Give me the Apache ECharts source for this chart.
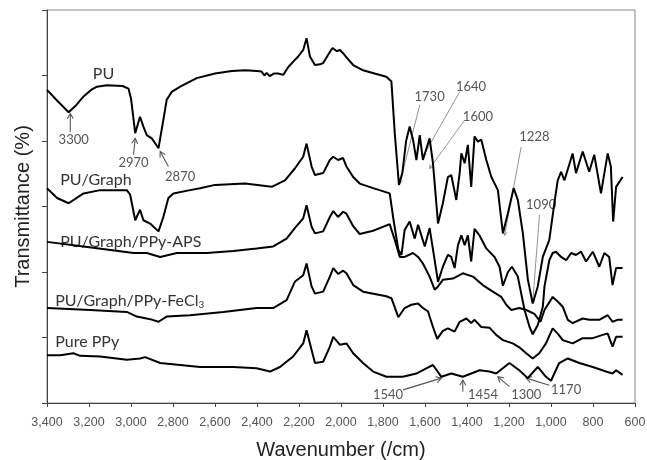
<!DOCTYPE html>
<html>
<head>
<meta charset="utf-8">
<script src="https://cdn.jsdelivr.net/npm/echarts@6/dist/echarts.min.js"></script>
<style>
  html, body { margin: 0; padding: 0; background: #fff; }
  #main { width: 647px; height: 460px; }
</style>
</head>
<body>
<div id="main"></div>
<script>
// FTIR spectra, [wavenumber (/cm), transmittance (offset, a.u.)]
const pu = [[3400,47.8],[3350,46.1],[3297,44.4],[3260,45.5],[3226,46.8],[3190,47.8],[3162,48.3],[3115,48.5],[3040,48.4],[3012,48.0],[3000,46.5],[2980,41.2],[2957,43.7],[2941,42.2],[2925,40.9],[2901,40.4],[2869,38.9],[2846,43.2],[2830,46.3],[2806,47.5],[2766,48.3],[2687,49.6],[2600,50.3],[2520,50.7],[2457,50.8],[2400,50.7],[2378,50.6],[2365,50.0],[2354,50.4],[2340,49.9],[2320,50.3],[2299,50.3],[2275,50.1],[2251,51.3],[2225,52.2],[2204,52.9],[2180,53.9],[2164,55.7],[2148,52.9],[2124,51.6],[2100,51.7],[2085,51.9],[2053,53.6],[2040,54.2],[2020,53.7],[2005,53.9],[1990,53.4],[1975,52.8],[1942,51.6],[1895,50.8],[1840,50.3],[1784,49.8],[1760,49.1],[1744,41.2],[1724,33.3],[1708,35.1],[1690,40.0],[1673,42.2],[1657,40.2],[1641,37.1],[1625,40.9],[1610,37.1],[1578,40.4],[1562,36.6],[1538,27.4],[1515,30.5],[1491,34.5],[1475,34.8],[1451,31.0],[1435,35.1],[1427,38.1],[1411,36.6],[1396,39.4],[1380,33.0],[1364,40.7],[1348,39.9],[1332,40.2],[1308,37.1],[1284,34.5],[1253,32.5],[1229,25.9],[1205,29.0],[1178,32.8],[1158,31.0],[1134,25.9],[1110,18.8],[1087,15.2],[1063,17.8],[1039,22.3],[1008,24.9],[984,30.5],[968,34.0],[952,35.3],[936,34.0],[897,38.1],[881,35.1],[849,38.4],[818,35.3],[794,37.9],[762,32.0],[730,38.1],[715,36.1],[704,27.7],[690,33.0],[659,34.5]];

const puGraph = [[3400,32.8],[3352,31.3],[3297,30.5],[3226,32.0],[3147,32.5],[3020,32.5],[3004,31.8],[2980,27.9],[2957,29.5],[2941,27.9],[2909,27.4],[2869,26.2],[2846,28.4],[2822,31.3],[2798,32.0],[2719,32.5],[2671,32.8],[2600,33.3],[2457,33.5],[2330,33.0],[2267,34.0],[2220,35.8],[2180,37.6],[2164,39.6],[2140,36.1],[2124,34.8],[2085,35.1],[2053,37.1],[2037,37.6],[2014,37.1],[1990,37.4],[1974,36.1],[1942,34.5],[1911,33.5],[1847,32.8],[1768,32.0],[1752,28.4],[1727,23.4],[1712,22.6],[1697,26.4],[1673,27.7],[1649,25.1],[1633,27.2],[1601,23.9],[1578,26.7],[1554,21.8],[1538,18.5],[1515,20.8],[1491,22.6],[1475,22.3],[1459,20.6],[1443,24.1],[1427,25.6],[1411,24.1],[1396,25.6],[1380,21.6],[1364,26.6],[1341,25.6],[1308,23.6],[1269,22.3],[1245,20.8],[1229,17.9],[1205,20.0],[1186,20.8],[1158,19.3],[1126,14.2],[1102,11.6],[1087,10.5],[1063,11.9],[1039,14.7],[1031,17.8],[1008,21.8],[992,22.9],[976,23.1],[952,22.3],[928,21.8],[904,22.9],[881,22.6],[857,23.1],[833,21.6],[801,23.1],[770,20.8],[746,22.9],[723,22.3],[707,18.0],[690,20.6],[659,20.6]];

const puGraphAps = [[3400,24.6],[3226,23.9],[2988,22.9],[2925,22.9],[2861,22.3],[2782,22.9],[2639,22.9],[2513,23.2],[2402,23.6],[2323,23.9],[2259,25.1],[2220,26.7],[2180,28.2],[2164,30.2],[2140,26.9],[2124,25.9],[2085,26.2],[2053,28.4],[2037,29.3],[2014,28.4],[1990,29.2],[1974,28.9],[1942,27.0],[1911,25.8],[1847,26.3],[1768,27.3],[1744,24.9],[1720,22.3],[1697,22.3],[1657,22.9],[1633,22.3],[1610,21.3],[1578,19.3],[1554,17.3],[1538,17.8],[1515,18.8],[1467,19.0],[1420,19.8],[1372,19.3],[1325,18.0],[1277,17.0],[1237,16.2],[1213,15.0],[1189,14.2],[1151,14.5],[1118,14.2],[1079,13.6],[1050,12.4],[1031,14.2],[992,16.2],[968,15.5],[944,14.7],[920,12.7],[897,12.2],[849,12.9],[818,12.7],[770,12.7],[730,13.4],[707,12.4],[683,12.7],[659,12.7]];

const puGraphFecl3 = [[3400,14.5],[3194,14.2],[3020,13.9],[2972,13.2],[2909,12.8],[2869,12.4],[2830,13.2],[2719,13.4],[2560,13.9],[2402,14.5],[2323,14.5],[2259,15.7],[2220,18.5],[2180,19.5],[2164,21.3],[2140,17.8],[2124,16.7],[2085,17.0],[2053,19.3],[2037,20.6],[2014,19.7],[1990,20.2],[1974,19.8],[1942,18.0],[1895,17.0],[1784,16.3],[1760,16.0],[1727,13.1],[1697,14.5],[1665,15.0],[1633,15.2],[1610,14.5],[1586,14.0],[1562,11.6],[1542,9.8],[1515,11.0],[1491,11.4],[1459,10.9],[1435,12.4],[1403,12.9],[1380,12.2],[1364,12.7],[1332,11.6],[1293,11.5],[1261,10.4],[1229,9.6],[1182,9.1],[1151,8.5],[1118,7.6],[1087,6.8],[1056,7.6],[1024,9.1],[992,11.4],[968,10.6],[944,9.6],[897,9.1],[849,9.9],[801,9.9],[754,10.4],[730,10.6],[707,8.6],[690,10.1],[659,10.1]];

const purePpy = [[3400,7.3],[3337,7.3],[3274,7.6],[3242,7.2],[3147,7.1],[3020,6.6],[2956,6.8],[2933,7.0],[2861,6.1],[2671,5.5],[2513,5.5],[2402,5.3],[2338,4.8],[2291,5.5],[2228,7.1],[2180,9.1],[2164,11.1],[2140,8.1],[2124,6.1],[2085,6.3],[2053,8.6],[2037,10.1],[2006,8.9],[1974,9.1],[1942,7.6],[1895,6.1],[1847,4.8],[1784,4.0],[1705,4.0],[1641,4.5],[1594,5.3],[1562,5.8],[1522,4.0],[1475,4.5],[1420,4.0],[1340,5.0],[1293,4.8],[1261,4.5],[1198,6.1],[1151,5.0],[1111,3.8],[1063,5.5],[1024,4.0],[1000,3.4],[961,6.1],[920,6.8],[865,6.1],[801,5.5],[738,4.8],[707,4.5],[690,5.0],[659,4.3]];

const seriesNames = ['PU', 'PU/Graph', 'PU/Graph/PPy-APS', 'PU/Graph/PPy-FeCl3', 'Pure PPy'];
const seriesData = [pu, puGraph, puGraphAps, puGraphFecl3, purePpy];
// where each curve name is written: [wavenumber, transmittance]
const nameAt = [[3131, 50.3], [3337, 34.0], [3337, 24.6], [3361, 15.6], [3361, 9.4]];

const xTicks = { min: 600, max: 3400, step: 200 };

// band notes: [label, textWn, textT, fromWn, fromT, toWn, toT]
const arrowNotes = [
  ['3300', 3273, 40.2, 3289, 41.4, 3289, 44.2],
  ['2970', 2988, 36.6, 2988, 37.9, 2980, 40.4],
  ['2870', 2766, 34.5, 2822, 36.1, 2861, 38.4],
  ['1540', 1776, 1.2, 1705, 2.0, 1522, 3.8],
  ['1454', 1324, 1.2, 1420, 1.7, 1420, 3.5],
  ['1300', 1118, 1.2, 1198, 2.5, 1253, 4.0],
  ['1170', 928, 2.0, 1008, 2.7, 1118, 3.8]
];
const leaderNotes = [
  ['1730', 1578, 46.8, 1625, 45.5, 1720, 33.5],
  ['1640', 1381, 48.3, 1435, 47.5, 1610, 37.6],
  ['1600', 1348, 43.7, 1411, 43.2, 1578, 35.8],
  ['1228', 1079, 40.7, 1142, 39.1, 1221, 25.6],
  ['1090', 1047, 30.2, 1055, 28.7, 1087, 15.4]
];

const chart = echarts.init(document.getElementById('main'));
chart.setOption({
  animation: false,
  grid: { left: 47, right: 12, top: 10, bottom: 57, outerBoundsMode: 'none', show: true, borderColor: '#888', borderWidth: 1 },
  xAxis: {
    type: 'value',
    inverse: true,
    min: xTicks.min,
    max: xTicks.max,
    interval: xTicks.step,
    name: 'Wavenumber (/cm)',
    nameLocation: 'middle',
    nameGap: 37,
    nameTextStyle: { fontFamily: 'Liberation Sans', fontSize: 20, color: '#222' },
    axisLine: { lineStyle: { color: '#444' } },
    axisTick: { length: 4, lineStyle: { color: '#444' } },
    axisLabel: {
      margin: 13,
      fontFamily: 'Liberation Sans', fontSize: 12.5, color: '#555',
      formatter: v => v.toLocaleString('en-US')
    },
    splitLine: { show: false }
  },
  yAxis: {
    type: 'value',
    min: 0,
    max: 60,
    interval: 10,
    name: 'Transmittance (%)',
    nameLocation: 'middle',
    nameGap: 14,
    nameTextStyle: { fontFamily: 'Liberation Sans', fontSize: 20, color: '#222' },
    axisLine: { show: true, lineStyle: { color: '#444' } },
    axisTick: { show: true, length: 5, lineStyle: { color: '#444' } },
    axisLabel: { show: false },
    splitLine: { show: false }
  },
  series: seriesData.map((d, i) => ({
    name: seriesNames[i],
    type: 'line',
    data: d,
    showSymbol: false,
    symbol: 'none',
    lineStyle: { color: '#000', width: 2 }
  }))
});

// annotations in data coordinates
const px = p => chart.convertToPixel({ gridIndex: 0 }, p);
const noteFont = '13px Lato';
const graphics = [];

function head(tip, tail, size) {
  const dx = tip[0] - tail[0], dy = tip[1] - tail[1];
  const len = Math.hypot(dx, dy) || 1;
  const ux = dx / len, uy = dy / len;
  const a = Math.PI / 6;
  const w1 = [tip[0] - size * (ux * Math.cos(a) - uy * Math.sin(a)), tip[1] - size * (uy * Math.cos(a) + ux * Math.sin(a))];
  const w2 = [tip[0] - size * (ux * Math.cos(a) + uy * Math.sin(a)), tip[1] - size * (uy * Math.cos(a) - ux * Math.sin(a))];
  return [w1, tip, w2];
}

arrowNotes.forEach(n => {
  const t = px([n[1], n[2]]), a = px([n[3], n[4]]), b = px([n[5], n[6]]);
  graphics.push({ type: 'text', x: t[0], y: t[1], style: { text: n[0], font: noteFont, fill: '#555', align: 'center', verticalAlign: 'middle' } });
  graphics.push({ type: 'line', shape: { x1: a[0], y1: a[1], x2: b[0], y2: b[1] }, style: { stroke: '#555', lineWidth: 1.1 } });
  graphics.push({ type: 'polyline', shape: { points: head(b, a, 6) }, style: { stroke: '#555', lineWidth: 1.1, fill: null } });
});
leaderNotes.forEach(n => {
  const t = px([n[1], n[2]]), a = px([n[3], n[4]]), b = px([n[5], n[6]]);
  graphics.push({ type: 'text', x: t[0], y: t[1], style: { text: n[0], font: noteFont, fill: '#555', align: 'center', verticalAlign: 'middle' } });
  graphics.push({ type: 'line', shape: { x1: a[0], y1: a[1], x2: b[0], y2: b[1] }, style: { stroke: '#777', lineWidth: 0.8 } });
  graphics.push({ type: 'polyline', shape: { points: head(b, a, 4) }, style: { stroke: '#777', lineWidth: 0.8, fill: null } });
});
seriesNames.forEach((name, i) => {
  const p = px(nameAt[i]);
  const isFe = name.endsWith('FeCl3');
  graphics.push({
    type: 'text', x: p[0], y: p[1],
    style: {
      text: isFe ? '{m|PU/Graph/PPy-FeCl}{s|3}' : name,
      font: '16px Lato', fill: '#333',
      align: i === 0 ? 'center' : 'left', verticalAlign: 'middle',
      rich: {
        m: { font: '16px Lato', fill: '#333' },
        s: { font: '10px Lato', fill: '#333', verticalAlign: 'bottom', padding: [8, 0, 0, 0] }
      }
    }
  });
});
chart.setOption({ graphic: graphics });
</script>
</body>
</html>
